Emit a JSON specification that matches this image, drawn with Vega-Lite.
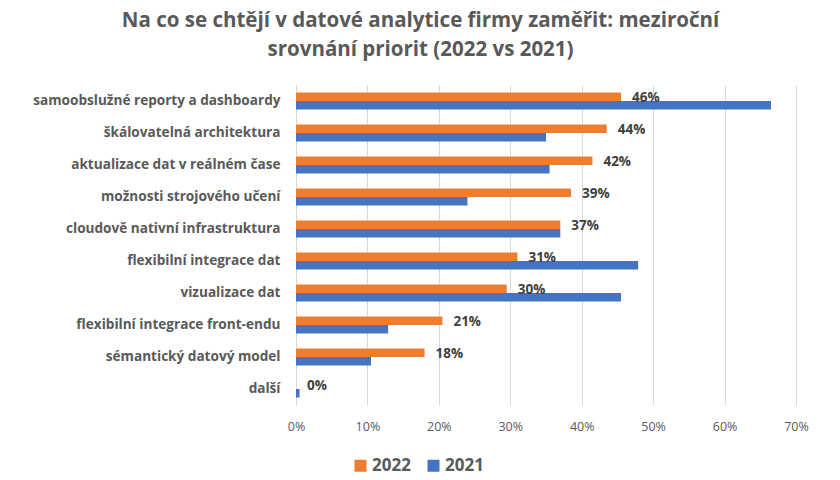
{
  "$schema": "https://vega.github.io/schema/vega-lite/v6.json",
  "width": 500,
  "height": 320,
  "autosize": {"type": "none"},
  "padding": {"left": 296, "top": 85, "right": 44, "bottom": 75},
  "background": "white",
  "title": {
    "text": ["Na co se chtějí v datové analytice firmy zaměřit: meziroční", "srovnání priorit (2022 vs 2021)"],
    "font": "Open Sans",
    "fontSize": 20.5,
    "fontWeight": "bold",
    "color": "#595959",
    "lineHeight": 29,
    "anchor": "middle",
    "frame": "bounds",
    "offset": 25
  },
  "config": {
    "view": {"stroke": null},
    "font": "Open Sans"
  },
  "data": {
    "values": [
      {"kategorie": "samoobslužné reporty a dashboardy", "rok": "2022", "hodnota": 0.455, "popisek": "46%"},
      {"kategorie": "samoobslužné reporty a dashboardy", "rok": "2021", "hodnota": 0.665, "popisek": ""},
      {"kategorie": "škálovatelná architektura", "rok": "2022", "hodnota": 0.435, "popisek": "44%"},
      {"kategorie": "škálovatelná architektura", "rok": "2021", "hodnota": 0.35, "popisek": ""},
      {"kategorie": "aktualizace dat v reálném čase", "rok": "2022", "hodnota": 0.415, "popisek": "42%"},
      {"kategorie": "aktualizace dat v reálném čase", "rok": "2021", "hodnota": 0.355, "popisek": ""},
      {"kategorie": "možnosti strojového učení", "rok": "2022", "hodnota": 0.385, "popisek": "39%"},
      {"kategorie": "možnosti strojového učení", "rok": "2021", "hodnota": 0.24, "popisek": ""},
      {"kategorie": "cloudově nativní infrastruktura", "rok": "2022", "hodnota": 0.37, "popisek": "37%"},
      {"kategorie": "cloudově nativní infrastruktura", "rok": "2021", "hodnota": 0.37, "popisek": ""},
      {"kategorie": "flexibilní integrace dat", "rok": "2022", "hodnota": 0.31, "popisek": "31%"},
      {"kategorie": "flexibilní integrace dat", "rok": "2021", "hodnota": 0.479, "popisek": ""},
      {"kategorie": "vizualizace dat", "rok": "2022", "hodnota": 0.295, "popisek": "30%"},
      {"kategorie": "vizualizace dat", "rok": "2021", "hodnota": 0.455, "popisek": ""},
      {"kategorie": "flexibilní integrace front-endu", "rok": "2022", "hodnota": 0.205, "popisek": "21%"},
      {"kategorie": "flexibilní integrace front-endu", "rok": "2021", "hodnota": 0.129, "popisek": ""},
      {"kategorie": "sémantický datový model", "rok": "2022", "hodnota": 0.18, "popisek": "18%"},
      {"kategorie": "sémantický datový model", "rok": "2021", "hodnota": 0.105, "popisek": ""},
      {"kategorie": "další", "rok": "2022", "hodnota": 0.0, "popisek": "0%"},
      {"kategorie": "další", "rok": "2021", "hodnota": 0.005, "popisek": ""}
    ]
  },
  "encoding": {
    "y": {
      "field": "kategorie",
      "type": "nominal",
      "sort": null,
      "scale": {"paddingInner": 0.47, "paddingOuter": 0.235},
      "axis": {
        "title": null,
        "ticks": false,
        "domain": true,
        "domainColor": "#D9D9D9",
        "labelFont": "Open Sans",
        "labelFontSize": 13.6,
        "labelFontWeight": "bold",
        "labelColor": "#595959",
        "labelPadding": 16,
        "labelLimit": 300
      }
    },
    "yOffset": {
      "field": "rok",
      "type": "nominal",
      "scale": {"domain": ["2022", "2021"], "padding": 0}
    },
    "x": {
      "field": "hodnota",
      "type": "quantitative",
      "scale": {"domain": [0, 0.7], "nice": false},
      "axis": {
        "title": null,
        "format": ".0%",
        "values": [0, 0.1, 0.2, 0.3, 0.4, 0.5, 0.6, 0.7],
        "domain": false,
        "ticks": false,
        "grid": true,
        "gridColor": "#D9D9D9",
        "gridWidth": 1,
        "labelFlush": false,
        "labelFont": "Open Sans",
        "labelFontSize": 12.5,
        "labelColor": "#595959",
        "labelPadding": 15
      }
    }
  },
  "layer": [
    {
      "mark": {"type": "bar", "cornerRadius": 0},
      "encoding": {
        "color": {
          "field": "rok",
          "type": "nominal",
          "scale": {"domain": ["2022", "2021"], "range": ["#ED7D31", "#4472C4"]},
          "legend": {
            "title": null,
            "orient": "none",
            "direction": "horizontal",
            "legendX": 56,
            "legendY": 372,
            "symbolType": "square",
            "symbolSize": 144,
            "symbolStrokeWidth": 0,
            "labelFont": "Open Sans",
            "labelFontSize": 17,
            "labelFontWeight": "bold",
            "labelColor": "#595959",
            "labelOffset": 3,
            "columnPadding": 14
          }
        }
      }
    },
    {
      "transform": [{"filter": "datum.rok == '2022'"}],
      "mark": {
        "type": "text",
        "align": "left",
        "baseline": "middle",
        "dx": 11,
        "dy": 1,
        "font": "Open Sans",
        "fontSize": 13.5,
        "fontWeight": "bold",
        "color": "#404040"
      },
      "encoding": {
        "text": {"field": "popisek", "type": "nominal"}
      }
    }
  ]
}
